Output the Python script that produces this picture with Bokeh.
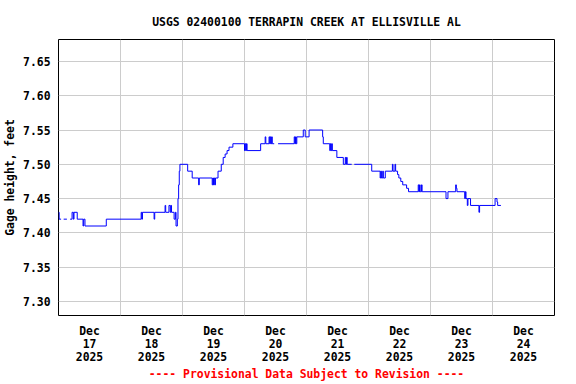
import numpy as np
import pandas as pd
from bokeh.plotting import figure
from bokeh.models import Range1d, FixedTicker, PrintfTickFormatter
from bokeh.embed import file_html
from bokeh.resources import INLINE

title_text = "USGS 02400100 TERRAPIN CREEK AT ELLISVILLE AL"
y_label = "Gage height, feet"
footer_text = "---- Provisional Data Subject to Revision ----"

nan = float("nan")

# gage height readings (step: value holds until next time; nan = missing data)
times = [
    "2025-12-17 00:00", "2025-12-17 00:15", "2025-12-17 01:00", "2025-12-17 02:00", "2025-12-17 03:15",
    "2025-12-17 04:30", "2025-12-17 05:15", "2025-12-17 05:45", "2025-12-17 06:00", "2025-12-17 07:15",
    "2025-12-17 09:30", "2025-12-17 09:45", "2025-12-17 10:15", "2025-12-17 18:30",
    "2025-12-18 08:00", "2025-12-18 08:15", "2025-12-18 08:30", "2025-12-18 13:00", "2025-12-18 13:15",
    "2025-12-18 17:15", "2025-12-18 17:30", "2025-12-18 18:45", "2025-12-18 19:15", "2025-12-18 19:30",
    "2025-12-18 19:45", "2025-12-18 20:45", "2025-12-18 21:15", "2025-12-18 21:30", "2025-12-18 22:00",
    "2025-12-18 22:15", "2025-12-18 22:30", "2025-12-18 22:45", "2025-12-18 23:00",
    "2025-12-19 02:00", "2025-12-19 03:45", "2025-12-19 06:15", "2025-12-19 06:30", "2025-12-19 11:30",
    "2025-12-19 11:45", "2025-12-19 12:00", "2025-12-19 12:15", "2025-12-19 12:30", "2025-12-19 12:45",
    "2025-12-19 13:45", "2025-12-19 15:00", "2025-12-19 15:45", "2025-12-19 16:30", "2025-12-19 17:15",
    "2025-12-19 18:00", "2025-12-19 19:30",
    "2025-12-20 00:00", "2025-12-20 00:15", "2025-12-20 00:30", "2025-12-20 00:45", "2025-12-20 01:00",
    "2025-12-20 06:15", "2025-12-20 08:00", "2025-12-20 08:15", "2025-12-20 09:30", "2025-12-20 09:45",
    "2025-12-20 10:00", "2025-12-20 10:15", "2025-12-20 10:30", "2025-12-20 10:45", "2025-12-20 11:30",
    "2025-12-20 13:00", "2025-12-20 19:15", "2025-12-20 19:30", "2025-12-20 19:45", "2025-12-20 20:00",
    "2025-12-20 20:15", "2025-12-20 22:45", "2025-12-20 23:30",
    "2025-12-21 01:00", "2025-12-21 06:15", "2025-12-21 06:30", "2025-12-21 09:00", "2025-12-21 09:15",
    "2025-12-21 09:30", "2025-12-21 09:45", "2025-12-21 10:00", "2025-12-21 11:45", "2025-12-21 14:15",
    "2025-12-21 15:00", "2025-12-21 15:15", "2025-12-21 15:30", "2025-12-21 15:45", "2025-12-21 17:30",
    "2025-12-21 18:30",
    "2025-12-22 01:15", "2025-12-22 04:30", "2025-12-22 04:45", "2025-12-22 05:00", "2025-12-22 05:30",
    "2025-12-22 05:45", "2025-12-22 06:30", "2025-12-22 09:15", "2025-12-22 09:30", "2025-12-22 10:15",
    "2025-12-22 10:30", "2025-12-22 11:15", "2025-12-22 11:45", "2025-12-22 12:30", "2025-12-22 13:15",
    "2025-12-22 14:45", "2025-12-22 15:30", "2025-12-22 19:15", "2025-12-22 19:30", "2025-12-22 19:45",
    "2025-12-22 20:00", "2025-12-22 20:30", "2025-12-22 20:45",
    "2025-12-23 06:00", "2025-12-23 06:45", "2025-12-23 09:45", "2025-12-23 10:00", "2025-12-23 10:15",
    "2025-12-23 13:15", "2025-12-23 13:30", "2025-12-23 13:45", "2025-12-23 14:15", "2025-12-23 14:30",
    "2025-12-23 15:30", "2025-12-23 18:45", "2025-12-23 19:00",
    "2025-12-24 01:00", "2025-12-24 01:45", "2025-12-24 02:00", "2025-12-24 03:15",
]
gage_ft = [
    7.43, 7.42, nan, 7.42, nan,
    7.42, 7.43, 7.42, 7.43, 7.42,
    7.41, 7.42, 7.41, 7.42,
    7.43, 7.42, 7.43, 7.42, 7.43,
    7.44, 7.43, 7.44, 7.43, 7.44,
    7.43, 7.42, 7.43, 7.41, 7.42,
    7.45, 7.47, 7.49, 7.50,
    7.49, 7.48, 7.47, 7.48, 7.47,
    7.48, 7.47, 7.48, 7.47, 7.48,
    7.49, 7.50, 7.51, 7.515, 7.52,
    7.525, 7.53,
    7.52, 7.53, 7.52, 7.53, 7.52,
    7.53, 7.54, 7.53, 7.54, 7.53,
    7.54, 7.53, 7.54, 7.53, nan,
    7.53, 7.54, 7.53, 7.54, 7.53,
    7.54, 7.55, 7.54,
    7.55, 7.54, 7.53, 7.52, 7.53,
    7.52, 7.53, 7.52, 7.51, 7.50,
    7.51, 7.50, 7.51, 7.50, nan,
    7.50,
    7.49, 7.48, 7.49, 7.48, 7.49,
    7.48, 7.49, 7.50, 7.49, 7.50,
    7.49, 7.485, 7.48, 7.475, 7.47,
    7.465, 7.46, 7.47, 7.46, 7.47,
    7.46, 7.47, 7.46,
    7.45, 7.46, 7.47, 7.465, 7.46,
    7.45, 7.46, 7.45, 7.44, 7.45,
    7.44, 7.43, 7.44,
    7.45, 7.445, 7.44, 7.44,
]

y_ticks = [7.30, 7.35, 7.40, 7.45, 7.50, 7.55, 7.60, 7.65]
day_dates = ["2025-12-17", "2025-12-18", "2025-12-19", "2025-12-20",
             "2025-12-21", "2025-12-22", "2025-12-23", "2025-12-24"]
day_labels = ["Dec\n17\n2025", "Dec\n18\n2025", "Dec\n19\n2025", "Dec\n20\n2025",
              "Dec\n21\n2025", "Dec\n22\n2025", "Dec\n23\n2025", "Dec\n24\n2025"]
x_start, x_end = "2025-12-17 00:00", "2025-12-25 00:00"
y_min, y_max = 7.2795, 7.682


def ms(s):
    return float(pd.Timestamp(s).value // 10**6)


# expand the step series into a line with breaks at missing data
t_ms = [ms(s) for s in times]
xs, ys = [], []
for i in range(len(t_ms) - 1):
    xs += [t_ms[i], t_ms[i + 1]]
    ys += [gage_ft[i], gage_ft[i]]
xs.append(t_ms[-1])
ys.append(gage_ft[-1])

FONT = "DejaVu Sans Mono"
FS = "11.4px"

p = figure(width=576, height=384, x_axis_type="datetime",
           x_range=Range1d(ms(x_start), ms(x_end)),
           y_range=Range1d(y_min, y_max),
           output_backend="svg", toolbar_location=None,
           min_border_left=58, min_border_right=22,
           min_border_top=39, min_border_bottom=68)

p.line(xs, ys, line_color="#0000FF", line_width=1)

# title
p.title.text = title_text
p.title.align = "center"
p.title.text_font = FONT
p.title.text_font_size = FS
p.title.text_font_style = "bold"
p.title.text_color = "black"
p.title.standoff = 21

# x axis: labels at noon, grid at midnight
noon_ticks = [ms(d) + 12 * 3600 * 1000 for d in day_dates]
midnight_ticks = [ms(d) for d in day_dates] + [ms(x_end)]
p.xaxis.ticker = FixedTicker(ticks=noon_ticks)
p.xaxis.major_label_overrides = {t: lab for t, lab in zip(noon_ticks, day_labels)}
p.xgrid.ticker = FixedTicker(ticks=midnight_ticks)
p.xaxis.axis_label = footer_text
p.xaxis.axis_label_text_color = "#FF0000"
p.xaxis.axis_label_standoff = 0

# y axis
p.yaxis.ticker = FixedTicker(ticks=y_ticks)
p.yaxis.formatter = PrintfTickFormatter(format="%.2f")
p.yaxis.axis_label = y_label
p.yaxis.axis_label_text_color = "black"
p.yaxis.axis_label_standoff = 3

for ax in (p.xaxis, p.yaxis):
    ax.axis_label_text_font = FONT
    ax.axis_label_text_font_size = FS
    ax.axis_label_text_font_style = "bold"
    ax.major_label_text_font = FONT
    ax.major_label_text_font_size = FS
    ax.major_label_text_font_style = "bold"
    ax.major_label_text_color = "black"
    ax.major_tick_line_color = None
    ax.minor_tick_line_color = None
    ax.axis_line_color = None
    ax.major_tick_out = 0
    ax.major_tick_in = 0
p.xaxis.major_label_text_line_height = 0.95
p.xaxis.major_label_standoff = 8
p.yaxis.major_label_standoff = 8

for g in (p.xgrid, p.ygrid):
    g.grid_line_color = "#CCCCCC"
    g.grid_line_width = 1

p.outline_line_color = "black"
p.outline_line_width = 1
p.background_fill_color = "white"
p.border_fill_color = "white"

open("out.html", "w").write(file_html(p, INLINE))
